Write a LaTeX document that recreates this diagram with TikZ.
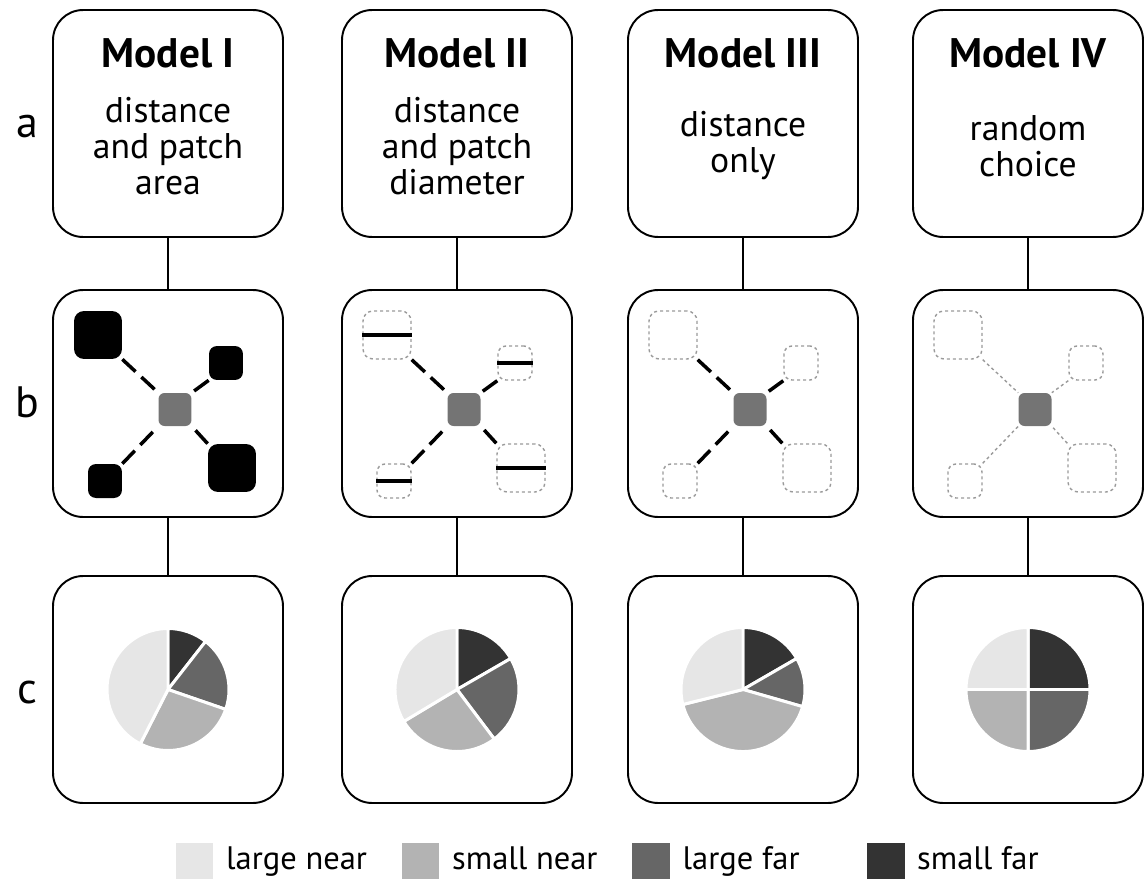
\documentclass[tikz,border=0pt]{standalone}
\usepackage{fontspec}
\setmainfont{PT Sans}
\usepackage{xcolor}
\definecolor{largenear}{HTML}{E6E6E6}
\definecolor{smallnear}{HTML}{B3B3B3}
\definecolor{largefar}{HTML}{666666}
\definecolor{smallfar}{HTML}{333333}
\definecolor{hubgray}{HTML}{747474}
\definecolor{patchgray}{HTML}{9A9A9A}
\usepackage{tikz}
\usetikzlibrary{positioning}

\begin{document}
\begin{tikzpicture}[
  x=0.02cm, y=-0.02cm,
  panel/.style={rectangle, draw=black, line width=1.1pt, rounded corners=0.6cm, minimum width=4.6cm, minimum height=4.54cm},
  title/.style={font=\fontsize{23.5}{26}\selectfont\bfseries, anchor=base},
  descr/.style={font=\fontsize{20.3}{20.5}\selectfont, align=center},
  rowlabel/.style={font=\fontsize{25}{30}\selectfont, anchor=base},
  vlink/.style={draw=black, line width=0.7pt},
  hub/.style={rectangle, fill=hubgray, rounded corners=0.12cm, minimum size=0.66cm, inner sep=0pt},
  bigpatch/.style={rectangle, rounded corners=0.2cm, minimum size=0.96cm, inner sep=0pt},
  smallpatch/.style={rectangle, rounded corners=0.16cm, minimum size=0.68cm, inner sep=0pt},
  filled/.style={fill=black},
  ghost/.style={draw=patchgray, line width=0.8pt, dash pattern=on 0.06cm off 0.06cm},
  dashlink/.style={draw=black, line width=2pt, dash pattern=on 0.36cm off 0.16cm},
  dotlink/.style={draw=patchgray, line width=0.8pt, dash pattern=on 0.06cm off 0.06cm},
  bar/.style={draw=black, line width=2.3pt},
  slice/.style={draw=white, line width=1.7pt},
  key/.style={rectangle, minimum width=0.76cm, minimum height=0.72cm, inner sep=0pt},
  keytext/.style={font=\fontsize{18.5}{22}\selectfont, inner sep=0pt, text height=0.4cm, text depth=0.08cm}
]
  \useasboundingbox (0,0) rectangle (1147,879);

  % row labels
  \node[rowlabel] (la) at (27,137) {a};
  \node[rowlabel] (lb) at (27,417) {b};
  \node[rowlabel] (lc) at (27,703) {c};

  % panels, one column per model
  \foreach \i/\cx in {1/168, 2/457, 3/743, 4/1028} {
    \node[panel] (a\i) at (\cx,123.5) {};
    \node[panel] (b\i) at (\cx,403.5) {};
    \node[panel] (c\i) at (\cx,689.5) {};
    \draw[vlink] (a\i) -- (b\i);
    \draw[vlink] (b\i) -- (c\i);
  }

  % row a: model names
  \node[title] (m1) at (168,67) {Model I};
  \node[title] (m2) at (457,67) {Model II};
  \node[title] (m3) at (743,67) {Model III};
  \node[title] (m4) at (1028,67) {Model IV};
  \node[descr] (d1) at (168,146) {distance\\and patch\\area};
  \node[descr] (d2) at (457,146) {distance\\and patch\\diameter};
  \node[descr] (d3) at (743,146) {distance\\only};
  \node[descr] (d4) at (1028,146) {random\\choice};

  % row b: patches around the focal patch
  \foreach \i/\cx/\pstyle/\lstyle in {1/168/filled/dashlink, 2/457/ghost/dashlink, 3/743/ghost/dashlink, 4/1028/ghost/dotlink} {
    \node[hub] (h\i) at (\cx+7,409.5) {};
    \node[bigpatch, \pstyle] (tl\i) at (\cx-70,335) {};
    \node[smallpatch, \pstyle] (tr\i) at (\cx+58,363) {};
    \node[smallpatch, \pstyle] (bl\i) at (\cx-63,481) {};
    \node[bigpatch, \pstyle] (br\i) at (\cx+64,468) {};
    \draw[\lstyle] (tl\i.south east) -- (h\i.north west);
    \draw[\lstyle] (tr\i.south west) -- (h\i.north east);
    \draw[\lstyle] (bl\i.north east) -- (h\i.south west);
    \draw[\lstyle] (br\i.north west) -- (h\i.south east);
  }
  % diameters for model II
  \draw[bar] (tl2.west) -- (tl2.east);
  \draw[bar] (tr2.west) -- (tr2.east);
  \draw[bar] (bl2.west) -- (bl2.east);
  \draw[bar] (br2.west) -- (br2.east);

  % row c: pie charts
  \begin{scope}[shift={(c1.center)}, yscale=-1]
    \foreach \s/\e/\c in {90/52/smallfar, 52/-19/largefar, -19/-117/smallnear, -117/-270/largenear}
      \filldraw[slice, fill=\c] (0,0) -- (\s:61) arc (\s:\e:61) -- cycle;
  \end{scope}
  \begin{scope}[shift={(c2.center)}, yscale=-1]
    \foreach \s/\e/\c in {90/30/smallfar, 30/-53/largefar, -53/-149/smallnear, -149/-270/largenear}
      \filldraw[slice, fill=\c] (0,0) -- (\s:62) arc (\s:\e:62) -- cycle;
  \end{scope}
  \begin{scope}[shift={(c3.center)}, yscale=-1]
    \foreach \s/\e/\c in {90/30/smallfar, 30/-16/largefar, -16/-166/smallnear, -166/-270/largenear}
      \filldraw[slice, fill=\c] (0,0) -- (\s:62) arc (\s:\e:62) -- cycle;
  \end{scope}
  \begin{scope}[shift={(c4.center)}, yscale=-1]
    \foreach \s/\e/\c in {90/0/smallfar, 0/-90/largefar, -90/-180/smallnear, -180/-270/largenear}
      \filldraw[slice, fill=\c] (0,0) -- (\s:62) arc (\s:\e:62) -- cycle;
  \end{scope}

  % legend
  \node[key, fill=largenear] (k1) at (194.5,861) {};
  \node[keytext, right=0.24cm of k1] (t1) {large near};
  \node[key, fill=smallnear] (k2) at (420.5,861) {};
  \node[keytext, right=0.24cm of k2] (t2) {small near};
  \node[key, fill=largefar] (k3) at (651,861) {};
  \node[keytext, right=0.24cm of k3] (t3) {large far};
  \node[key, fill=smallfar] (k4) at (885.5,861) {};
  \node[keytext, right=0.24cm of k4] (t4) {small far};
\end{tikzpicture}
\end{document}
